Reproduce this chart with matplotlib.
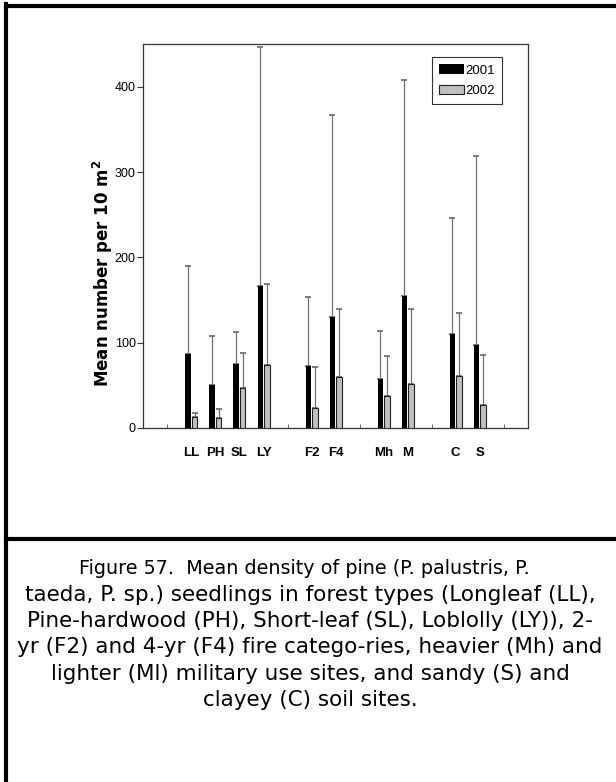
import matplotlib
matplotlib.use("Agg")
import matplotlib.pyplot as plt
from matplotlib.lines import Line2D
from matplotlib.ticker import FixedLocator
from matplotlib import font_manager

# site categories, split into the four comparison groups
groups = [["LL", "PH", "SL", "LY"], ["F2", "F4"], ["Mh", "M"], ["C", "S"]]

# mean seedlings per 10 m2 and the top of each error bar
mean_2001 = [87, 50, 75, 166, 73, 130, 58, 155, 110, 97]
upper_2001 = [190, 108, 112, 446, 153, 367, 114, 408, 246, 319]
mean_2002 = [13, 12, 47, 74, 24, 60, 37, 52, 61, 27]
upper_2002 = [17, 22, 88, 169, 72, 139, 84, 139, 135, 85]

caption_head = "Figure 57.  Mean density of pine (P. palustris, P."
caption_body = ("taeda, P. sp.) seedlings in forest types (Longleaf (LL),\n"
                "Pine-hardwood (PH), Short-leaf (SL), Loblolly (LY)), 2-\n"
                "yr (F2) and 4-yr (F4) fire catego-ries, heavier (Mh) and\n"
                "lighter (Ml) military use sites, and sandy (S) and\n"
                "clayey (C) soil sites.")


def have_font(name):
    try:
        font_manager.findfont(name, fallback_to_default=False)
        return True
    except ValueError:
        return False


narrow = "Liberation Sans Narrow" if have_font("Liberation Sans Narrow") else "Liberation Sans"
plt.rcParams["mathtext.default"] = "regular"

# one empty slot before each group
labels, pos, gap_pos = [], [], []
x = 0
for g in groups:
    x += 1
    gap_pos.append(x)
    for name in g:
        x += 1
        labels.append(name)
        pos.append(x)
gap_pos.append(x + 1)

fig = plt.figure(figsize=(6.16, 7.82), dpi=100)
ax = fig.add_axes([0.2328, 0.4527, 0.6239, 0.491])

w = 0.22
x1 = [p - 0.14 for p in pos]
x2 = [p + 0.14 for p in pos]
err1 = [u - m for u, m in zip(upper_2001, mean_2001)]
err2 = [u - m for u, m in zip(upper_2002, mean_2002)]

ax.bar(x1, mean_2001, w, color="black", label="2001", zorder=3)
ax.bar(x2, mean_2002, w, color="#c0c0c0", edgecolor="#202020",
       linewidth=0.8, label="2002", zorder=3)
for xs, ms, es in [(x1, mean_2001, err1), (x2, mean_2002, err2)]:
    _, caps, lines = ax.errorbar(xs, ms, yerr=[[0] * len(es), es], fmt="none",
                                 ecolor="#707070", elinewidth=0.9,
                                 capsize=2.4, capthick=1.3, zorder=2)
    for c in caps:
        c.set_color("#303030")

ax.set_xlim(0, 16)
ax.set_ylim(0, 450)
ax.set_yticks([0, 100, 200, 300, 400])
ax.set_xticks(pos)
ax.set_xticklabels(labels, family=narrow, fontweight="bold", fontsize=9.5)
ax.xaxis.set_minor_locator(FixedLocator(gap_pos))
ax.tick_params(axis="x", which="major", length=0, pad=14)
ax.tick_params(axis="x", which="minor", direction="in", length=3,
               width=0.6, color="#555555")
ax.tick_params(axis="y", length=4, width=0.8, pad=1.5, color="#333333")
for t in ax.get_yticklabels():
    t.set_family(narrow)
    t.set_fontsize(9)
for s in ax.spines.values():
    s.set_linewidth(0.9)
    s.set_color("#333333")

ax.set_ylabel("Mean number per 10 m$^2$", fontsize=12, fontweight="bold",
              family="DejaVu Sans")
ax.yaxis.set_label_coords(-0.073, 0.404)

leg = ax.legend(loc="upper right", bbox_to_anchor=(0.933, 0.966),
                borderaxespad=0, prop={"family": narrow, "size": 9.5},
                fancybox=False, edgecolor="#333333", framealpha=1,
                handlelength=1.85, handleheight=0.76, handletextpad=0.12,
                borderpad=0.55, labelspacing=0.6)
leg.get_frame().set_linewidth(0.8)

# page frame and caption divider
lw = 3
fig.add_artist(Line2D([0.0097, 0.0097], [0, 1 - 4 / 782], color="black",
                      lw=lw, transform=fig.transFigure))
fig.add_artist(Line2D([0.0097, 1], [1 - 5.5 / 782, 1 - 5.5 / 782],
                      color="black", lw=lw, transform=fig.transFigure))
fig.add_artist(Line2D([0.0097, 1], [1 - 539 / 782, 1 - 539 / 782],
                      color="black", lw=lw, transform=fig.transFigure))

# caption: first line is set a little tighter than the rest
fig.text(304 / 616, 1 - 559 / 782, caption_head, ha="center", va="top",
         family="DejaVu Sans", fontsize=13.8)
fig.text(310 / 616, 1 - 585 / 782, caption_body, ha="center", va="top",
         family="DejaVu Sans", fontsize=15.5, linespacing=1.39,
         multialignment="center")

fig.savefig("out.png", dpi=100)
